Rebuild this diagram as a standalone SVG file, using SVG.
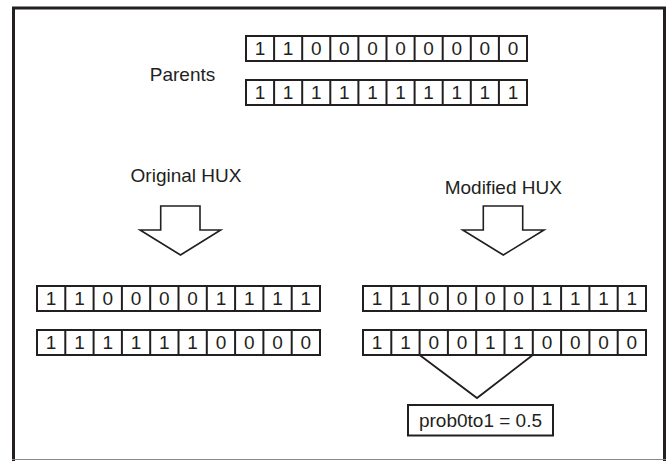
<svg xmlns="http://www.w3.org/2000/svg" width="669" height="461" viewBox="0 0 669 461">
<style>
.frame{fill:none;stroke:#231f20;stroke-width:3}
.row{fill:#fff;stroke:#231f20;stroke-width:2}
.sep{fill:none;stroke:#231f20;stroke-width:2}
.t{font-family:"Liberation Sans",Arial,sans-serif;font-size:19px;fill:#231f20;text-anchor:middle}
.arrow{fill:#fff;stroke:#231f20;stroke-width:1.6;stroke-linejoin:miter}
.conn{fill:none;stroke:#231f20;stroke-width:1.8}
</style>
<rect width="669" height="461" fill="#fff"/>
<path class="frame" d="M13.5,461 V8 H664.5 V461"/>
<line x1="12" y1="459.5" x2="666" y2="459.5" stroke="#8a8a8a" stroke-width="1"/>

<g id="parents-label"><text class="t" x="182.5" y="81">Parents</text></g>

<g id="parent1">
<rect class="row" x="246" y="36" width="281" height="25"/>
<path class="sep" d="M274.1,36v25M302.2,36v25M330.3,36v25M358.4,36v25M386.5,36v25M414.6,36v25M442.7,36v25M470.8,36v25M498.9,36v25"/>
<text class="t" y="55.3"><tspan x="260.05">1</tspan><tspan x="288.15">1</tspan><tspan x="316.25">0</tspan><tspan x="344.35">0</tspan><tspan x="372.45">0</tspan><tspan x="400.55">0</tspan><tspan x="428.65">0</tspan><tspan x="456.75">0</tspan><tspan x="484.85">0</tspan><tspan x="512.95">0</tspan></text>
</g>

<g id="parent2">
<rect class="row" x="246" y="80" width="281" height="25"/>
<path class="sep" d="M274.1,80v25M302.2,80v25M330.3,80v25M358.4,80v25M386.5,80v25M414.6,80v25M442.7,80v25M470.8,80v25M498.9,80v25"/>
<text class="t" y="99.3"><tspan x="260.05">1</tspan><tspan x="288.15">1</tspan><tspan x="316.25">1</tspan><tspan x="344.35">1</tspan><tspan x="372.45">1</tspan><tspan x="400.55">1</tspan><tspan x="428.65">1</tspan><tspan x="456.75">1</tspan><tspan x="484.85">1</tspan><tspan x="512.95">1</tspan></text>
</g>

<g id="original-hux">
<text class="t" x="186" y="182">Original HUX</text>
<polygon class="arrow" points="160.7,206 200,206 200,230 220.7,230 180.5,255 140,230 160.7,230"/>
</g>

<g id="modified-hux">
<text class="t" x="503.3" y="194">Modified HUX</text>
<polygon class="arrow" points="483.3,206 522.7,206 522.7,230 544,230 503.3,255 462.7,230 483.3,230"/>
</g>

<g id="orig-child1">
<rect class="row" x="37" y="286" width="283" height="25"/>
<path class="sep" d="M65.3,286v25M93.6,286v25M121.9,286v25M150.2,286v25M178.5,286v25M206.8,286v25M235.1,286v25M263.4,286v25M291.7,286v25"/>
<text class="t" y="305.3"><tspan x="51.15">1</tspan><tspan x="79.45">1</tspan><tspan x="107.75">0</tspan><tspan x="136.05">0</tspan><tspan x="164.35">0</tspan><tspan x="192.65">0</tspan><tspan x="220.95">1</tspan><tspan x="249.25">1</tspan><tspan x="277.55">1</tspan><tspan x="305.85">1</tspan></text>
</g>

<g id="orig-child2">
<rect class="row" x="37" y="330" width="283" height="25"/>
<path class="sep" d="M65.3,330v25M93.6,330v25M121.9,330v25M150.2,330v25M178.5,330v25M206.8,330v25M235.1,330v25M263.4,330v25M291.7,330v25"/>
<text class="t" y="349.3"><tspan x="51.15">1</tspan><tspan x="79.45">1</tspan><tspan x="107.75">1</tspan><tspan x="136.05">1</tspan><tspan x="164.35">1</tspan><tspan x="192.65">1</tspan><tspan x="220.95">0</tspan><tspan x="249.25">0</tspan><tspan x="277.55">0</tspan><tspan x="305.85">0</tspan></text>
</g>

<g id="mod-child1">
<rect class="row" x="363" y="286" width="283" height="25"/>
<path class="sep" d="M391.3,286v25M419.6,286v25M447.9,286v25M476.2,286v25M504.5,286v25M532.8,286v25M561.1,286v25M589.4,286v25M617.7,286v25"/>
<text class="t" y="305.3"><tspan x="377.15">1</tspan><tspan x="405.45">1</tspan><tspan x="433.75">0</tspan><tspan x="462.05">0</tspan><tspan x="490.35">0</tspan><tspan x="518.65">0</tspan><tspan x="546.95">1</tspan><tspan x="575.25">1</tspan><tspan x="603.55">1</tspan><tspan x="631.85">1</tspan></text>
</g>

<g id="mod-child2">
<rect class="row" x="363" y="330" width="283" height="25"/>
<path class="sep" d="M391.3,330v25M419.6,330v25M447.9,330v25M476.2,330v25M504.5,330v25M532.8,330v25M561.1,330v25M589.4,330v25M617.7,330v25"/>
<text class="t" y="349.3"><tspan x="377.15">1</tspan><tspan x="405.45">1</tspan><tspan x="433.75">0</tspan><tspan x="462.05">0</tspan><tspan x="490.35">1</tspan><tspan x="518.65">1</tspan><tspan x="546.95">0</tspan><tspan x="575.25">0</tspan><tspan x="603.55">0</tspan><tspan x="631.85">0</tspan></text>
</g>

<g id="connectors">
<polyline class="conn" points="419.6,355 477,398 532.8,355"/>
</g>

<g id="prob-label">
<rect class="row" x="408" y="405" width="145" height="30.5"/>
<text class="t" x="480.5" y="427">prob0to1 = 0.5</text>
</g>
</svg>
